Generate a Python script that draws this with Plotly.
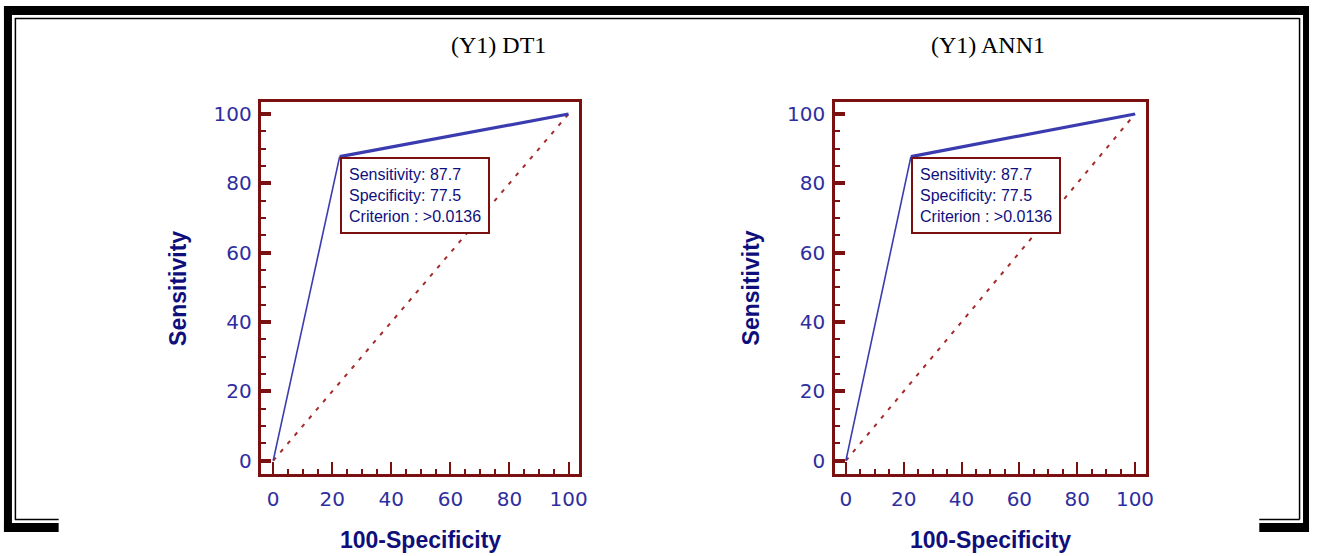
import plotly.graph_objects as go

W, H = 1317, 556

# ---- data ----
panel_titles = ["(Y1) DT1", "(Y1) ANN1"]
fpr_dt = [0, 22.5, 100]
tpr_dt = [0, 87.7, 100]
fpr_ann = [0, 22.5, 100]
tpr_ann = [0, 87.7, 100]
diag_x = [0, 100]
diag_y = [0, 100]
sens_vals = [87.7, 87.7]
spec_vals = [77.5, 77.5]
criterion_vals = [">0.0136", ">0.0136"]
tick_vals = [0, 20, 40, 60, 80, 100]

RED = "#7b1010"
BLUE_TICK = "#2e2e9e"
NAVY = "#0f0f7c"
CURVE = "#3b3bb0"
DIAG = "#a52a2a"

def px_x(px):
    return px / W

def px_y(py):
    return 1 - py / H

fig = go.Figure()

panels = [
    dict(fpr=fpr_dt, tpr=tpr_dt, xd=(263, 583), xr=[-4.0, 103.7], tx=501.5),
    dict(fpr=fpr_ann, tpr=tpr_ann, xd=(840, 1153), xr=[-3.8, 103.8], tx=994.5),
]
yd = (101.5, 473.5)
yr = [-3.7, 103.6]

annotations = []
for i, p in enumerate(panels):
    xa = "x" if i == 0 else "x2"
    ya = "y" if i == 0 else "y2"
    # diagonal
    fig.add_trace(go.Scatter(x=diag_x, y=diag_y, mode="lines", xaxis=xa, yaxis=ya,
                             line=dict(color=DIAG, width=2, dash="4px,7px"),
                             showlegend=False, hoverinfo="skip"))
    # steep segment (thin) and shallow segment (thick)
    fig.add_trace(go.Scatter(x=p["fpr"][0:2], y=p["tpr"][0:2], mode="lines", xaxis=xa, yaxis=ya,
                             line=dict(color=CURVE, width=1.6), showlegend=False))
    fig.add_trace(go.Scatter(x=p["fpr"][1:3], y=p["tpr"][1:3], mode="lines", xaxis=xa, yaxis=ya,
                             line=dict(color=CURVE, width=3.2), showlegend=False))

    axis_common = dict(
        showgrid=False, zeroline=False, showline=True, mirror=True,
        linecolor=RED, linewidth=2.5,
        tickmode="array", tickvals=tick_vals, ticks="inside",
        tickcolor=RED, tickfont=dict(family="DejaVu Sans", size=20, color=BLUE_TICK),
        minor=dict(dtick=5, ticks="inside", ticklen=5, tickwidth=1.5, tickcolor=RED, showgrid=False),
    )
    xkey = "xaxis" if i == 0 else "xaxis2"
    ykey = "yaxis" if i == 0 else "yaxis2"
    fig.update_layout(**{
        xkey: dict(axis_common, domain=[px_x(p["xd"][0]), px_x(p["xd"][1])], range=p["xr"],
                   anchor=ya, ticklen=12, tickwidth=2, ticklabelstandoff=6, fixedrange=True),
        ykey: dict(axis_common, domain=[px_y(yd[1]), px_y(yd[0])], range=yr,
                   anchor=xa, ticklen=10, tickwidth=3.5, ticklabelstandoff=3, fixedrange=True),
    })

    # info box
    annotations.append(dict(
        x=p["fpr"][1], y=p["tpr"][1], xref=xa, yref=ya, xanchor="left", yanchor="top",
        text=f"Sensitivity: {sens_vals[i]}<br>Specificity: {spec_vals[i]}<br>Criterion : {criterion_vals[i]}",
        showarrow=False, align="left",
        font=dict(family="Liberation Sans, Arial", size=16, color=NAVY),
        bordercolor=RED, borderwidth=2, borderpad=7, bgcolor="white",
    ))
    xc = (p["xd"][0] + p["xd"][1]) / 2
    # panel title
    annotations.append(dict(x=px_x(p["tx"]), y=px_y(45), xref="paper", yref="paper",
                            xanchor="center", yanchor="middle",
                            text=panel_titles[i], showarrow=False,
                            font=dict(family="Liberation Serif, Times New Roman", size=24, color="black")))
    # axis titles
    annotations.append(dict(x=px_x(xc), y=px_y(540), xref="paper", yref="paper",
                            xanchor="center", yanchor="middle",
                            text="<b>100-Specificity</b>", showarrow=False,
                            font=dict(family="Liberation Sans, Arial", size=23, color=NAVY)))
    annotations.append(dict(x=px_x(p["xd"][0] - 84), y=px_y(288), xref="paper", yref="paper",
                            xanchor="center", yanchor="middle",
                            text="<b>Sensitivity</b>", showarrow=False, textangle=-90,
                            font=dict(family="Liberation Sans, Arial", size=23, color=NAVY)))

# outer frame
shapes = []
def hline(x0, x1, y, w, c="black"):
    shapes.append(dict(type="line", xref="paper", yref="paper", x0=px_x(x0), x1=px_x(x1),
                       y0=px_y(y), y1=px_y(y), line=dict(color=c, width=w)))
def vline(x, y0, y1, w, c="black"):
    shapes.append(dict(type="line", xref="paper", yref="paper", x0=px_x(x), x1=px_x(x),
                       y0=px_y(y0), y1=px_y(y1), line=dict(color=c, width=w)))

hline(4, 1317, 10.5, 9)
vline(8, 6, 532, 8)
vline(1314, 6, 532, 6)
hline(4, 59, 527.5, 9)
hline(1267, 1317, 527.5, 9)
hline(15, 1307.5, 18.5, 1.5)
vline(15.5, 18, 519.5, 1.5)
vline(1307.5, 18, 519.5, 1.5)
hline(15, 59, 519.5, 1.5)
hline(1267, 1307.5, 519.5, 1.5)

fig.update_layout(
    width=W, height=H, margin=dict(l=0, r=0, t=0, b=0),
    paper_bgcolor="white", plot_bgcolor="white",
    annotations=annotations, shapes=shapes, showlegend=False,
)

fig.write_html("out.html")
